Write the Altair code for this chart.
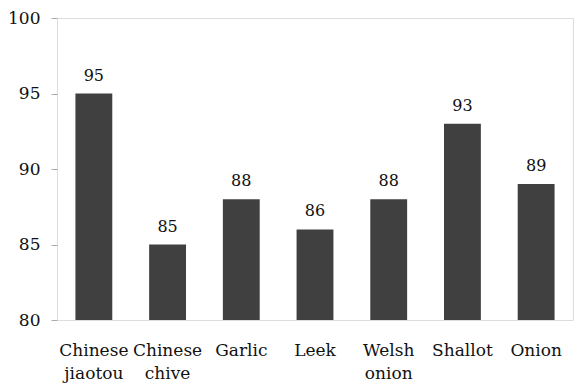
import altair as alt
import pandas as pd

# Crop names (two-line labels) and their values
crops = ["Chinese\njiaotou", "Chinese\nchive", "Garlic", "Leek", "Welsh\nonion", "Shallot", "Onion"]
values = [95, 85, 88, 86, 88, 93, 89]
y_ticks = [80, 85, 90, 95, 100]

df = pd.DataFrame({"crop": crops, "value": values})

FONT = "DejaVu Serif"

x_enc = alt.X(
    "crop:N",
    sort=crops,
    scale=alt.Scale(paddingInner=0.5, paddingOuter=0.25),
    axis=alt.Axis(
        title=None,
        labelAngle=0,
        labelExpr="split(datum.label, '\\n')",
        labelFont=FONT,
        labelFontSize=17,
        labelColor="#111111",
        labelLineHeight=23,
        labelPadding=22,
        ticks=False,
        domain=False,
        labelLimit=200,
    ),
)

y_enc = alt.Y(
    "value:Q",
    scale=alt.Scale(domain=[80, 100], clamp=True, zero=False, nice=False),
    axis=alt.Axis(
        title=None,
        values=y_ticks,
        labelFont=FONT,
        labelFontSize=17,
        labelColor="#111111",
        labelPadding=11,
        tickSize=6,
        tickColor="#aaaaaa",
        tickWidth=1,
        domain=False,
        grid=False,
    ),
)

bars = alt.Chart(df).mark_bar(color="#404040").encode(x=x_enc, y=y_enc)

labels = alt.Chart(df).mark_text(
    font=FONT, fontSize=16, color="#111111", baseline="alphabetic", dy=-13
).encode(x=alt.X("crop:N", sort=crops), y=alt.Y("value:Q"), text=alt.Text("value:Q"))

chart = (
    alt.layer(bars, labels)
    .properties(
        width=516,
        height=302,
        padding={"left": 57, "top": 18, "right": 6, "bottom": 64},
        autosize=alt.AutoSizeParams(type="none"),
    )
    .configure_view(stroke="#999999", strokeWidth=2)
    .configure(background="white")
)

chart.save("out.html", embed_options={"renderer": "svg", "actions": False})
